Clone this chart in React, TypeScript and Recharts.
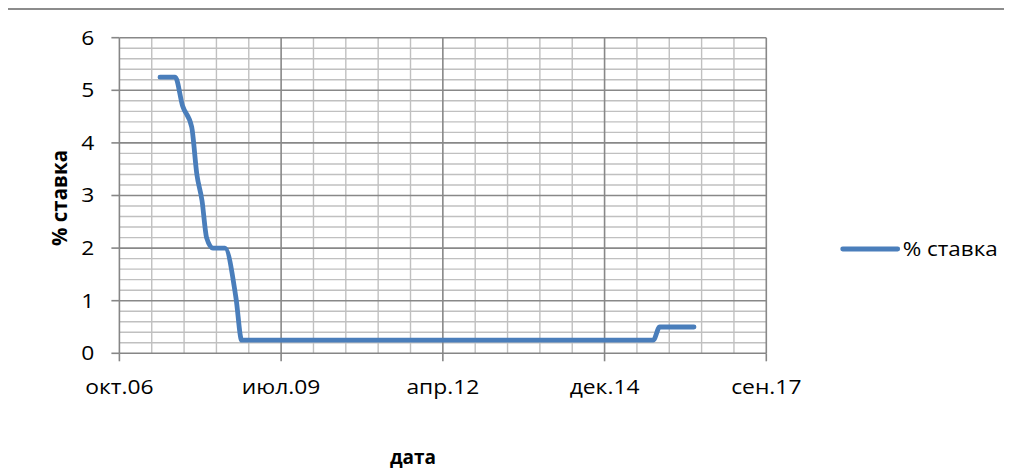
import React from 'react';
import { LineChart, Line, XAxis, YAxis, ReferenceLine } from 'recharts';

// ---- data ----
const rateDates: string[] = [
  '2007-06-18', '2007-09-20', '2007-11-05', '2007-12-31', '2008-02-01', '2008-03-04',
  '2008-04-01', '2008-05-10', '2008-07-24', '2008-09-30', '2008-11-04', '2015-10-24',
  '2015-12-03', '2016-07-02',
];
const rateValues: number[] = [5.25, 5.25, 4.7, 4.3, 3.4, 2.9, 2.2, 2.0, 2.0, 1.05, 0.25, 0.25, 0.5, 0.5];

const seriesName = '% ставка';
const xTicks: number[] = [39000, 40000, 41000, 42000, 43000];
const xTickLabels: string[] = ['окт.06', 'июл.09', 'апр.12', 'дек.14', 'сен.17'];
const yTicks: number[] = [0, 1, 2, 3, 4, 5, 6];
const xTitle = 'дата';
const yTitle = '% ставка';

// Excel serial date conversion
const toSerial = (s: string): number => {
  const [y, m, d] = s.split('-').map(Number);
  return Math.round((Date.UTC(y, m - 1, d) - Date.UTC(1899, 11, 30)) / 86400000);
};

const data = rateDates.map((d, i) => ({ date: toSerial(d), rate: rateValues[i] }));

// grid positions
const minorX: number[] = [];
for (let v = 39200; v < 43000; v += 200) if (v % 1000 !== 0) minorX.push(v);
const minorY: number[] = [];
for (let i = 1; i < 30; i++) if (i % 5 !== 0) minorY.push(i / 5);
const majorX = xTicks.slice(1);
const majorY = yTicks.slice(1);

const FONT = '"Open Sans", sans-serif';
const MINOR = '#C0C0C0';
const MAJOR = '#888888';
const AXIS = '#868686';
const BLUE = '#4A7EBB';
const TICK_SIZE = 19.5;
const SX = 1.17;

const labelFor = (v: number) => {
  const i = xTicks.indexOf(v);
  return i >= 0 ? xTickLabels[i] : '';
};

const XTick = (props: any) => {
  const { x, y, payload } = props;
  return (
    <g transform={`translate(${x},${y})`}>
      <text transform={`scale(${SX},1)`} textAnchor="middle" dy="0.71em" fontFamily={FONT} fontSize={TICK_SIZE} fill="#000">
        {labelFor(payload.value)}
      </text>
    </g>
  );
};

const YTick = (props: any) => {
  const { x, y, payload } = props;
  return (
    <g transform={`translate(${x},${y})`}>
      <text transform={`scale(${SX},1)`} textAnchor="end" dy="0.355em" fontFamily={FONT} fontSize={TICK_SIZE} fill="#000">
        {payload.value}
      </text>
    </g>
  );
};

export default function App() {
  return (
    <div style={{ position: 'relative', width: 1004, height: 464 }}>
      <div
        style={{
          position: 'absolute', left: -2, top: 0, width: 1006, height: 464, boxSizing: 'border-box',
          borderLeft: '2px solid #8c8c8c', borderTop: '2px solid #8c8c8c',
        }}
      />
      <div style={{ position: 'absolute', left: 0, top: 0 }}>
        <LineChart width={1004} height={464} data={data} margin={{ top: 29.7, right: 245.7, left: 0, bottom: 0 }}>
          <XAxis
            dataKey="date"
            type="number"
            domain={[39000, 43000]}
            ticks={xTicks}
            interval={0}
            height={118.7}
            tickSize={8}
            tickMargin={19}
            axisLine={{ stroke: AXIS, strokeWidth: 1.6 }}
            tickLine={{ stroke: AXIS, strokeWidth: 1.6 }}
            tick={<XTick />}
            label={{
              content: () => (
                <text x={405} y={456} textAnchor="middle" fontFamily={FONT} fontWeight="bold" fontSize={19} fill="#000">
                  {xTitle}
                </text>
              ),
            }}
          />
          <YAxis
            type="number"
            domain={[0, 6]}
            ticks={yTicks}
            interval={0}
            width={111.4}
            tickSize={8}
            tickMargin={17}
            axisLine={{ stroke: AXIS, strokeWidth: 1.6 }}
            tickLine={{ stroke: AXIS, strokeWidth: 1.6 }}
            tick={<YTick />}
            label={{
              content: () => (
                <text
                  x={50.5}
                  y={190}
                  transform="rotate(-90, 50.5, 190)"
                  textAnchor="middle"
                  dominantBaseline="central"
                  fontFamily={FONT}
                  fontWeight="bold"
                  fontSize={20.5}
                  fill="#000"
                >
                  {yTitle}
                </text>
              ),
            }}
          />
          {minorX.map((v) => (
            <ReferenceLine key={'mx' + v} x={v} stroke={MINOR} strokeWidth={1.4} />
          ))}
          {minorY.map((v) => (
            <ReferenceLine key={'my' + v} y={v} stroke={MINOR} strokeWidth={1.4} />
          ))}
          {majorX.map((v) => (
            <ReferenceLine key={'Mx' + v} x={v} stroke={MAJOR} strokeWidth={1.6} />
          ))}
          {majorY.map((v) => (
            <ReferenceLine key={'My' + v} y={v} stroke={MAJOR} strokeWidth={1.6} />
          ))}
          <Line
            type="monotone"
            dataKey="rate"
            name={seriesName}
            stroke={BLUE}
            strokeWidth={4.8}
            strokeLinecap="round"
            strokeLinejoin="round"
            dot={false}
            activeDot={false}
            isAnimationActive={false}
          />
        </LineChart>
      </div>
      <svg style={{ position: 'absolute', left: 826, top: 222 }} width={178} height={44}>
        <line x1={8.7} y1={19} x2={63.7} y2={19} stroke={BLUE} strokeWidth={4.8} strokeLinecap="round" />
        <g transform="translate(68.7,26)">
          <text transform="scale(1.15,1)" fontFamily={FONT} fontSize={19.5} fill="#000">
            {seriesName}
          </text>
        </g>
      </svg>
    </div>
  );
}
